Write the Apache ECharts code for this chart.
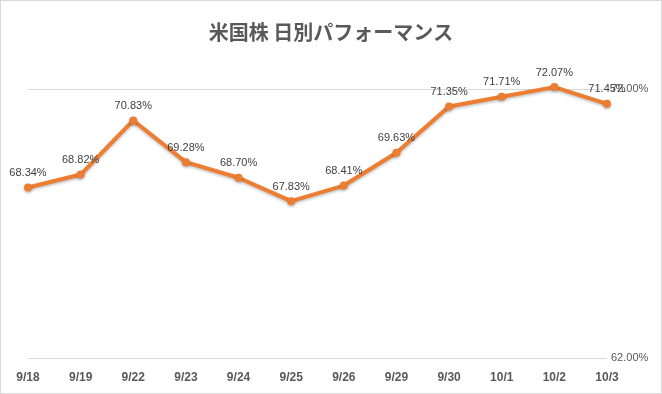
<!DOCTYPE html>
<html><head><meta charset="utf-8">
<script src="https://cdn.jsdelivr.net/npm/echarts@6/dist/echarts.min.js"></script>
<style>
html,body{margin:0;padding:0;background:#fff;}
#c{width:660px;height:392px;border:1px solid #d9d9d9;}
</style></head>
<body><div id="c"></div>
<script>
const titleText = '米国株 日別パフォーマンス';
const categories = ['9/18','9/19','9/22','9/23','9/24','9/25','9/26','9/29','9/30','10/1','10/2','10/3'];
const values = [68.34, 68.82, 70.83, 69.28, 68.70, 67.83, 68.41, 69.63, 71.35, 71.71, 72.07, 71.45];
const yMin = 62, yMax = 72, yStep = 10;

const chart = echarts.init(document.getElementById('c'), null, {renderer:'canvas'});
chart.setOption({
  backgroundColor:'#fff',
  animation:false,
  title:{text:titleText,left:'center',top:16,
    textStyle:{fontFamily:'"Noto Sans CJK JP"',fontSize:20,fontWeight:'bold',color:'#595959'}},
  grid:{left:27,right:54,top:88,bottom:35},
  xAxis:{type:'category',data:categories,boundaryGap:false,
    axisLine:{show:false},axisTick:{show:false},splitLine:{show:false},
    axisLabel:{color:'#595959',fontFamily:'"Liberation Sans", Arial',fontSize:12,fontWeight:'bold',margin:14}},
  yAxis:{type:'value',position:'right',min:yMin,max:yMax,interval:yStep,
    axisLine:{show:false},axisTick:{show:false},
    splitLine:{lineStyle:{color:'#d9d9d9',width:1}},
    axisLabel:{color:'#595959',fontFamily:'"Liberation Sans", Arial',fontSize:11,margin:4,
      formatter:v=>v.toFixed(2)+'%'}},
  series:[{type:'line',data:values,clip:false,
    symbol:'circle',symbolSize:8,
    lineStyle:{color:'#ED7D31',width:4,shadowColor:'rgba(0,0,0,0.25)',shadowBlur:3,shadowOffsetY:1.5},
    itemStyle:{color:'#ED7D31',shadowColor:'rgba(0,0,0,0.25)',shadowBlur:3,shadowOffsetY:1.5},
    label:{show:true,position:'top',distance:5,color:'#404040',fontFamily:'"Liberation Sans", Arial',fontSize:11,
      formatter:p=>p.value.toFixed(2)+'%'}}]
});
</script></body></html>
